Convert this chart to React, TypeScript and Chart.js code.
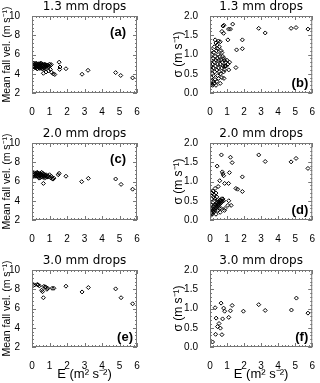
import React, { useEffect, useRef } from 'react';
import { Chart, registerables } from 'chart.js';

Chart.register(...registerables);

// ---------- data ----------
const xTicks = [0, 1, 2, 3, 4, 5, 6];
const velTicks = [2, 4, 6, 8, 10];
const sigmaTicks = [0, 0.5, 1, 1.5, 2];
const rowTitles = ['1.3 mm drops', '2.0 mm drops', '3.0 mm drops'];
const panelLabels = ['(a)', '(b)', '(c)', '(d)', '(e)', '(f)'];
const velAxisTitle = 'Mean fall vel. (m s\u207B\u00B9)';
const sigmaAxisTitle = '\u03C3 (m s\u207B\u00B9)';
const eAxisTitle = 'E (m\u00B2 s\u207B\u00B2)';

// (a) mean fall velocity, 1.3 mm
const vel13: [number, number][] = [
  [0.05, 5.0], [0.08, 4.85], [0.1, 5.1], [0.12, 4.7], [0.15, 4.95], [0.18, 4.8], [0.2, 5.05], [0.22, 4.6],
  [0.25, 4.9], [0.28, 4.75], [0.3, 5.0], [0.32, 4.55], [0.35, 4.85], [0.38, 4.7], [0.4, 5.05], [0.42, 4.6],
  [0.45, 4.9], [0.48, 4.75], [0.5, 5.0], [0.52, 4.65], [0.55, 4.85], [0.58, 4.55], [0.6, 4.95], [0.62, 4.7],
  [0.65, 4.85], [0.68, 4.6], [0.7, 5.0], [0.72, 4.75], [0.75, 4.9], [0.8, 4.8], [0.85, 4.65], [0.9, 4.9],
  [0.95, 4.75], [1.0, 5.0], [1.05, 4.85], [1.1, 4.95], [0.15, 4.65], [0.3, 4.5], [0.45, 4.55], [0.6, 4.5],
  [0.25, 5.1], [0.5, 5.1], [0.12, 5.05], [0.38, 5.0], [0.55, 5.05], [0.7, 4.55], [0.78, 4.95], [0.88, 4.85],
  [0.02, 4.8], [0.2, 4.7], [0.42, 4.8], [0.65, 4.05], [0.8, 4.18], [0.95, 4.3], [1.05, 4.45], [1.12, 4.15],
  [1.22, 3.98], [1.3, 3.92], [1.55, 5.2], [1.6, 4.7], [1.58, 4.45], [1.94, 4.52], [2.86, 3.95], [3.2, 4.36],
  [4.78, 4.12], [5.07, 3.82], [5.75, 3.57],
];

// (b) sigma, 1.3 mm
const sig13: [number, number][] = [
  [0.05, 0.7], [0.08, 0.85], [0.1, 0.6], [0.12, 1.0], [0.15, 0.75], [0.18, 0.9], [0.2, 0.65], [0.22, 1.05],
  [0.25, 0.8], [0.28, 0.55], [0.3, 0.95], [0.32, 0.7], [0.35, 0.85], [0.38, 1.1], [0.4, 0.6], [0.42, 0.9],
  [0.45, 0.75], [0.48, 1.0], [0.5, 0.65], [0.52, 0.85], [0.55, 0.55], [0.58, 0.95], [0.6, 0.75], [0.62, 0.5],
  [0.65, 0.85], [0.68, 0.65], [0.72, 0.8], [0.78, 0.7], [0.8, 0.55], [0.88, 0.7], [0.05, 0.95], [0.1, 1.1],
  [0.15, 0.5], [0.08, 0.4], [0.02, 0.65], [0.03, 0.8], [0.3, 1.38], [0.35, 1.3], [0.42, 1.25], [0.5, 1.35],
  [0.55, 1.2], [0.6, 1.33], [0.25, 1.2], [0.45, 1.15], [0.65, 1.1], [0.7, 1.05], [0.75, 0.95], [0.82, 0.9],
  [0.85, 0.85], [0.92, 0.8], [1.0, 0.85], [1.05, 0.75], [0.95, 0.7], [1.1, 0.6], [0.85, 0.6], [1.15, 0.8],
  [0.05, 0.25], [0.1, 0.22], [0.15, 0.2], [0.2, 0.3], [0.25, 0.25], [0.3, 0.35], [0.35, 0.2], [0.4, 0.3],
  [0.5, 0.38], [0.6, 0.25], [0.7, 0.4], [0.82, 0.38], [0.45, 0.45], [0.2, 0.45], [0.02, 0.22], [0.12, 0.33],
  [0.76, 1.74], [0.82, 1.76], [1.33, 1.79], [1.09, 1.66], [1.2, 1.66], [0.7, 1.6], [0.8, 1.55], [1.05, 1.38],
  [1.9, 1.38], [1.56, 1.12], [1.9, 1.15], [1.52, 0.66], [2.86, 1.68], [3.24, 1.56], [4.76, 1.68], [5.05, 1.7],
  [5.75, 1.66],
];

// (c) mean fall velocity, 2.0 mm
const vel20: [number, number][] = [
  [0.05, 6.7], [0.08, 6.85], [0.1, 6.6], [0.12, 6.75], [0.15, 6.9], [0.18, 6.65], [0.2, 6.8], [0.22, 6.55],
  [0.25, 6.75], [0.28, 6.9], [0.3, 6.6], [0.32, 6.8], [0.35, 6.5], [0.38, 6.7], [0.4, 6.85], [0.42, 6.6],
  [0.45, 6.75], [0.48, 6.4], [0.5, 6.65], [0.52, 6.8], [0.55, 6.55], [0.58, 6.7], [0.6, 6.45], [0.62, 6.85],
  [0.65, 6.6], [0.68, 6.75], [0.7, 6.5], [0.72, 6.35], [0.75, 6.65], [0.78, 6.55], [0.8, 6.7], [0.85, 6.45],
  [0.9, 6.6], [0.95, 6.5], [1.0, 6.7], [1.05, 6.4], [1.1, 6.55], [1.15, 6.3], [1.2, 6.25], [1.25, 6.35],
  [0.4, 6.35], [0.15, 6.55], [0.55, 6.95], [0.3, 6.95], [0.65, 5.8], [1.5, 6.7], [1.55, 6.85], [1.94, 6.55],
  [2.84, 5.98], [3.22, 6.33], [4.78, 6.26], [5.09, 5.7], [5.75, 5.2],
];

// (d) sigma, 2.0 mm
const sig20: [number, number][] = [
  [0.05, 0.12], [0.08, 0.18], [0.1, 0.25], [0.12, 0.15], [0.15, 0.22], [0.18, 0.3], [0.2, 0.2], [0.22, 0.28],
  [0.25, 0.35], [0.28, 0.25], [0.3, 0.32], [0.32, 0.4], [0.35, 0.3], [0.38, 0.38], [0.4, 0.45], [0.42, 0.35],
  [0.45, 0.42], [0.48, 0.38], [0.5, 0.48], [0.52, 0.4], [0.55, 0.45], [0.58, 0.52], [0.6, 0.42], [0.62, 0.5],
  [0.65, 0.45], [0.68, 0.55], [0.7, 0.5], [0.72, 0.48], [0.75, 0.55], [0.8, 0.5], [0.15, 0.45], [0.1, 0.55],
  [0.2, 0.6], [0.12, 0.7], [0.25, 0.65], [0.08, 0.4], [0.3, 0.55], [0.18, 0.75], [0.35, 0.7], [0.28, 0.5],
  [0.05, 0.3], [0.4, 0.6], [0.45, 0.25], [0.55, 0.3], [0.65, 0.3], [0.6, 0.2], [0.35, 0.15], [0.85, 0.25],
  [0.88, 0.3], [0.3, 0.82], [0.48, 0.87], [0.67, 1.69], [1.2, 1.63], [1.3, 1.49], [0.42, 1.4], [0.72, 1.25],
  [0.76, 1.2], [0.8, 1.15], [1.14, 1.23], [0.57, 1.02], [0.86, 0.95], [1.09, 0.95], [1.9, 1.12], [1.52, 0.82],
  [1.62, 0.8], [1.9, 0.74], [2.86, 1.69], [3.24, 1.52], [4.76, 1.51], [5.05, 1.6], [5.75, 1.34], [1.1, 0.5],
  [1.05, 0.38], [1.24, 0.38],
];

// (e) mean fall velocity, 3.0 mm
const vel30: [number, number][] = [
  [0.08, 8.4], [0.15, 8.45], [0.3, 8.5], [0.35, 8.45], [0.42, 8.35], [0.55, 7.9], [0.6, 7.75], [0.65, 7.12],
  [0.68, 8.3], [0.75, 8.25], [0.8, 8.2], [0.85, 8.0], [0.9, 8.1], [1.15, 8.1], [1.25, 8.1], [1.94, 8.32],
  [2.86, 7.72], [3.22, 8.18], [4.78, 8.04], [5.09, 7.12], [5.75, 6.49],
];

// (f) sigma, 3.0 mm
const sig30: [number, number][] = [
  [0.15, 0.13], [0.33, 0.33], [0.3, 1.02], [0.36, 0.75], [0.44, 0.53], [0.61, 0.49], [0.53, 0.61], [0.65, 1.14],
  [0.7, 0.32], [0.74, 0.73], [0.8, 1.01], [0.86, 0.93], [1.1, 0.77], [1.2, 0.94], [1.3, 1.08], [1.96, 0.93],
  [2.86, 1.1], [3.24, 0.95], [4.78, 0.96], [5.07, 1.27], [5.75, 0.88],
];

const panelData = [vel13, sig13, vel20, sig20, vel30, sig30];

// ---------- drawing ----------
const FONT = '"Liberation Sans", Arial, sans-serif';

type PanelProps = { idx: number };

function Panel({ idx }: PanelProps) {
  const ref = useRef<HTMLCanvasElement | null>(null);
  const col = idx % 2;
  const row = Math.floor(idx / 2);
  const isVel = col === 0;
  const isBottom = row === 2;
  const width = 160;
  const height = isBottom ? 129 : 127;

  useEffect(() => {
    const canvas = ref.current;
    if (!canvas) return;
    const yTicks = isVel ? velTicks : sigmaTicks;
    const yMinorStep = isVel ? 0.4 : 0.1;
    const xMinorStep = 0.2;

    const framePlugin = {
      id: 'frameAndLabels',
      afterDraw(chart: any) {
        const { ctx, chartArea } = chart;
        const { left, right, top, bottom } = chartArea;
        const xs = chart.scales.x;
        const ys = chart.scales.y;
        ctx.save();
        ctx.strokeStyle = '#777';
        ctx.lineWidth = 1;
        ctx.strokeRect(left + 0.5, top + 0.5, right - left - 1, bottom - top - 1);
        ctx.beginPath();
        const nx = Math.round((xs.max - xs.min) / xMinorStep);
        for (let i = 0; i <= nx; i++) {
          const v = xs.min + i * xMinorStep;
          const px = Math.round(xs.getPixelForValue(v)) + 0.5;
          const len = i % 5 === 0 ? 4 : 2;
          ctx.moveTo(px, bottom);
          ctx.lineTo(px, bottom - len);
          ctx.moveTo(px, top);
          ctx.lineTo(px, top + len);
        }
        const ny = Math.round((ys.max - ys.min) / yMinorStep);
        for (let i = 0; i <= ny; i++) {
          const v = ys.min + i * yMinorStep;
          const py = Math.round(ys.getPixelForValue(v)) + 0.5;
          const len = i % 5 === 0 ? 4 : 2;
          ctx.moveTo(left, py);
          ctx.lineTo(left + len, py);
          ctx.moveTo(right, py);
          ctx.lineTo(right - len, py);
        }
        ctx.stroke();

        // row title
        ctx.fillStyle = '#000';
        ctx.font = '12px "DejaVu Sans", sans-serif';
        ctx.textAlign = 'center';
        ctx.textBaseline = 'alphabetic';
        ctx.fillText(rowTitles[row], (left + right) / 2, top - 6);

        // panel label
        ctx.font = 'bold 13px ' + FONT;
        ctx.textAlign = 'right';
        const label = panelLabels[idx];
        if (isVel && row < 2) {
          ctx.fillText(label, right - 11, top + 20);
        } else {
          ctx.fillText(label, right - 4, bottom - 6);
        }
        ctx.restore();
      },
    };

    const chart = new Chart(canvas, {
      type: 'scatter',
      data: {
        datasets: [
          {
            data: panelData[idx].map(([x, y]) => ({ x, y })),
            pointStyle: 'rectRot',
            pointRadius: 2,
            borderColor: '#000',
            backgroundColor: 'rgba(0,0,0,0)',
            borderWidth: 1,
          } as any,
        ],
      },
      options: {
        responsive: false,
        animation: false,
        events: [],
        layout: { padding: { left: 0, right: isVel ? 23 : 5, top: 16, bottom: 0 } },
        plugins: {
          legend: { display: false },
          tooltip: { enabled: false },
          title: { display: false },
        },
        scales: {
          x: {
            type: 'linear',
            min: xTicks[0],
            max: xTicks[xTicks.length - 1],
            afterBuildTicks: (s: any) => {
              s.ticks = xTicks.map((v) => ({ value: v }));
            },
            ticks: {
              color: '#000',
              font: { family: FONT, size: 10 },
              padding: 5,
              maxRotation: 0,
              autoSkip: false,
            },
            grid: { display: false },
            border: { display: false },
            title: {
              display: isBottom,
              text: eAxisTitle,
              color: '#000',
              font: { family: FONT, size: 13 },
              padding: { top: 0, bottom: 1 },
            },
            afterFit: (s: any) => {
              s.height = isBottom ? 36 : 34;
            },
          },
          y: {
            type: 'linear',
            min: yTicks[0],
            max: yTicks[yTicks.length - 1],
            afterBuildTicks: (s: any) => {
              s.ticks = yTicks.map((v) => ({ value: v }));
            },
            ticks: {
              color: '#000',
              font: { family: FONT, size: 10 },
              padding: 4,
              autoSkip: false,
              callback: (v: any) => (isVel ? String(v) : Number(v).toFixed(1)),
            },
            grid: { display: false },
            border: { display: false },
            title: {
              display: true,
              text: isVel ? velAxisTitle : sigmaAxisTitle,
              color: '#000',
              font: { family: FONT, size: isVel ? 10.5 : 12 },
              padding: { top: isVel ? 1 : 11, bottom: 0 },
            },
            afterFit: (s: any) => {
              s.width = isVel ? 32 : 50;
            },
          },
        },
      } as any,
      plugins: [framePlugin],
    });
    return () => chart.destroy();
  }, [idx]);

  return (
    <canvas
      ref={ref}
      width={width}
      height={height}
      style={{
        position: 'absolute',
        left: col * 160,
        top: row * 127,
        width,
        height,
        display: 'block',
      }}
    />
  );
}

export default function App() {
  return (
    <div
      style={{
        position: 'absolute',
        left: 0,
        top: 0,
        width: 320,
        height: 383,
        background: '#fff',
        overflow: 'hidden',
      }}
    >
      {panelData.map((_, i) => (
        <Panel key={i} idx={i} />
      ))}
    </div>
  );
}
